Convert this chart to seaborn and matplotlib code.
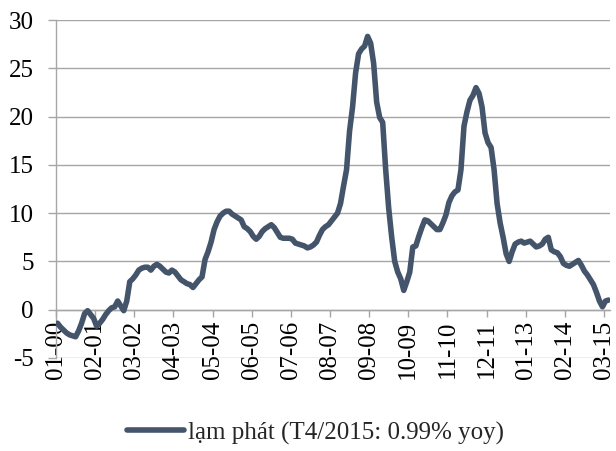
import numpy as np
import pandas as pd
import seaborn as sns
import matplotlib.pyplot as plt

# monthly CPI yoy (%), Jan 2000 .. Apr 2015
y2000 = [-1.4, -1.8, -2.1, -2.4, -2.6, -2.7, -2.8, -2.2, -1.4, -0.4, -0.1, -0.5]
y2001 = [-0.9, -1.7, -1.4, -1.0, -0.5, -0.1, 0.2, 0.3, 0.9, 0.4, -0.1, 0.9]
y2002 = [2.9, 3.2, 3.6, 4.1, 4.3, 4.4, 4.4, 4.1, 4.5, 4.7, 4.5, 4.2]
y2003 = [3.9, 3.8, 4.1, 3.9, 3.5, 3.1, 2.9, 2.7, 2.6, 2.3, 2.7, 3.1]
y2004 = [3.4, 5.2, 6.0, 7.0, 8.3, 9.1, 9.7, 10.0, 10.2, 10.2, 9.9, 9.7]
y2005 = [9.5, 9.3, 8.6, 8.4, 8.1, 7.6, 7.3, 7.6, 8.1, 8.4, 8.6, 8.8]
y2006 = [8.5, 8.0, 7.5, 7.4, 7.4, 7.4, 7.3, 6.9, 6.8, 6.7, 6.6, 6.4]
y2007 = [6.5, 6.7, 7.0, 7.7, 8.3, 8.6, 8.8, 9.2, 9.6, 10.0, 11.0, 12.8]
y2008 = [14.5, 18.5, 21.0, 24.5, 26.5, 27.0, 27.3, 28.3, 27.6, 25.5, 21.5, 19.9]
y2009 = [19.4, 14.5, 10.5, 7.5, 5.0, 3.9, 3.2, 2.0, 2.9, 3.9, 6.5, 6.6]
y2010 = [7.6, 8.5, 9.3, 9.2, 8.9, 8.6, 8.3, 8.3, 9.0, 9.8, 11.1, 11.8]
y2011 = [12.2, 12.4, 14.5, 19.0, 20.5, 21.7, 22.2, 23.0, 22.4, 21.0, 18.3, 17.3]
y2012 = [16.8, 14.5, 11.0, 9.0, 7.5, 5.8, 5.0, 6.0, 6.8, 7.0, 7.1, 6.9]
y2013 = [7.0, 7.1, 6.8, 6.5, 6.6, 6.8, 7.3, 7.5, 6.2, 6.0, 5.9, 5.5]
y2014 = [4.8, 4.6, 4.5, 4.7, 4.9, 5.1, 4.6, 4.0, 3.6, 3.1, 2.6, 1.8]
y2015 = [0.9, 0.3, 0.9, 1.0]

tick_labels = ["01-00", "02-01", "03-02", "04-03", "05-04", "06-05", "07-06",
               "08-07", "09-08", "10-09", "11-10", "12-11", "01-13", "02-14", "03-15"]
series_name = "lạm phát (T4/2015: 0.99% yoy)"

cpi = (y2000 + y2001 + y2002 + y2003 + y2004 + y2005 + y2006 + y2007
       + y2008 + y2009 + y2010 + y2011 + y2012 + y2013 + y2014 + y2015)
df = pd.DataFrame({"t": np.arange(len(cpi)), "cpi": cpi})

sns.set_theme(style="white")
plt.rcParams['font.family'] = ['Liberation Serif', 'DejaVu Serif']
plt.rcParams['font.size'] = 18
plt.rcParams['axes.unicode_minus'] = False

grey = "#a6a6a6"
fig = plt.figure(figsize=(6.16, 4.51), dpi=100)
ax = fig.add_axes([56/616, 1 - 358/451, (610 - 56)/616, (358 - 20)/451])

sns.lineplot(data=df, x="t", y="cpi", ax=ax, color="#44546a", linewidth=4,
             label=series_name, solid_joinstyle="round", solid_capstyle="round",
             zorder=3)

# spine position first: it resets the ticks
for s in ["top", "right"]:
    ax.spines[s].set_visible(False)
ax.spines["bottom"].set_position(("data", 0))
ax.spines["bottom"].set_color(grey)
ax.spines["left"].set_color(grey)
ax.spines["bottom"].set_linewidth(1)
ax.spines["left"].set_linewidth(1)

ax.set_ylim(-5, 30)
ax.set_yticks(range(-5, 31, 5))
ax.set_xlim(-0.5, len(cpi) - 0.5)
ax.set_xticks(np.arange(len(tick_labels)) * 13 - 0.5)
ax.set_xticklabels(tick_labels)
ax.set_xlabel("")
ax.set_ylabel("")

ax.yaxis.grid(True, color=grey, linewidth=1)
ax.set_axisbelow(True)

ax.tick_params(axis="x", direction="out", length=5, width=1, color=grey, pad=3,
               labelsize=18, labelcolor="black", bottom=True, labelrotation=90)
ax.tick_params(axis="y", direction="out", length=6, width=1, color=grey, pad=10,
               labelsize=18, labelcolor="black", left=True)

ax.legend(loc="center", bbox_to_anchor=(0.512, 0.04), bbox_transform=fig.transFigure,
          frameon=False, fontsize=18, handlelength=2.3, handletextpad=0.15)

fig.savefig("out.png", dpi=100)
